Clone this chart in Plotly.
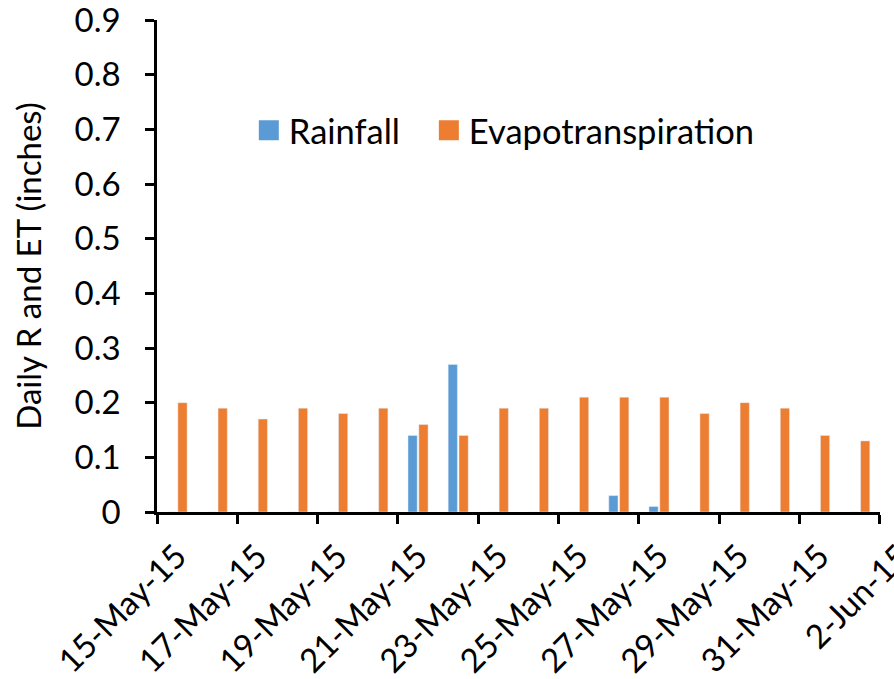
import plotly.graph_objects as go

# Daily observations, 15 May - 1 Jun 2015
dates = ["2015-05-15", "2015-05-16", "2015-05-17", "2015-05-18", "2015-05-19",
         "2015-05-20", "2015-05-21", "2015-05-22", "2015-05-23", "2015-05-24",
         "2015-05-25", "2015-05-26", "2015-05-27", "2015-05-28", "2015-05-29",
         "2015-05-30", "2015-05-31", "2015-06-01"]
rainfall = [0, 0, 0, 0, 0, 0, 0.14, 0.27, 0, 0, 0, 0.03, 0.01, 0, 0, 0, 0, 0]
evapotranspiration = [0.20, 0.19, 0.17, 0.19, 0.18, 0.19, 0.16, 0.14, 0.19,
                      0.19, 0.21, 0.21, 0.21, 0.18, 0.20, 0.19, 0.14, 0.13]
y_ticks = [0, 0.1, 0.2, 0.3, 0.4, 0.5, 0.6, 0.7, 0.8, 0.9]

series = [("Rainfall", rainfall, "#5B9BD5", "legend"),
          ("Evapotranspiration", evapotranspiration, "#ED7D31", "legend2")]

FONT = "Lato, 'Open Sans', sans-serif"
FS = 33
DAY_MS = 86400000

fig = go.Figure()
for name, vals, color, _ in series:
    fig.add_trace(go.Bar(x=dates, y=vals, name=name, marker_color=color,
                         xperiod=DAY_MS, xperiodalignment="middle",
                         showlegend=False))
# legend entries with larger square keys, one legend box per series
for name, vals, color, leg in series:
    fig.add_trace(go.Scatter(x=[None], y=[None], mode="markers", name=name,
                             legend=leg,
                             marker=dict(symbol="square", size=16, color=color,
                                         line=dict(color=color, width=4))))

legend_style = dict(orientation="h", y=0.776, xanchor="left", yanchor="middle",
                    font=dict(size=34.5), bgcolor="rgba(0,0,0,0)")

fig.update_layout(
    width=894, height=679,
    margin=dict(l=157, r=14, t=20, b=167),
    paper_bgcolor="white", plot_bgcolor="white",
    barmode="group", bargap=0.46, bargroupgap=0.15,
    font=dict(family=FONT, size=FS, color="black"),
    legend=dict(x=0.127, **legend_style),
    legend2=dict(x=0.376, **legend_style),
)
fig.update_xaxes(
    type="date", range=["2015-05-15", "2015-06-02 00:05"],
    tick0="2015-05-15", dtick=2 * DAY_MS, tickformat="%-d-%b-%y",
    tickangle=-45, ticks="outside", ticklen=9, tickwidth=2.5, tickcolor="black",
    showline=True, linecolor="black", linewidth=2.5, showgrid=False,
    zeroline=False, tickfont=dict(size=FS), automargin=False,
    ticklabelshift=20, ticklabeloverflow="allow",
)
fig.update_yaxes(
    range=[0, 0.9], tickvals=y_ticks, ticktext=[f"{v:g}" for v in y_ticks],
    ticks="outside", ticklen=9, tickwidth=2.5, tickcolor="black",
    showline=True, linecolor="black", linewidth=2.5, showgrid=False,
    zeroline=False, tickfont=dict(size=FS), automargin=False,
    ticklabelstandoff=18, ticklabeloverflow="allow",
    title=dict(text="Daily R and ET (inches)", font=dict(size=FS), standoff=24),
)

fig.write_html("out.html")
